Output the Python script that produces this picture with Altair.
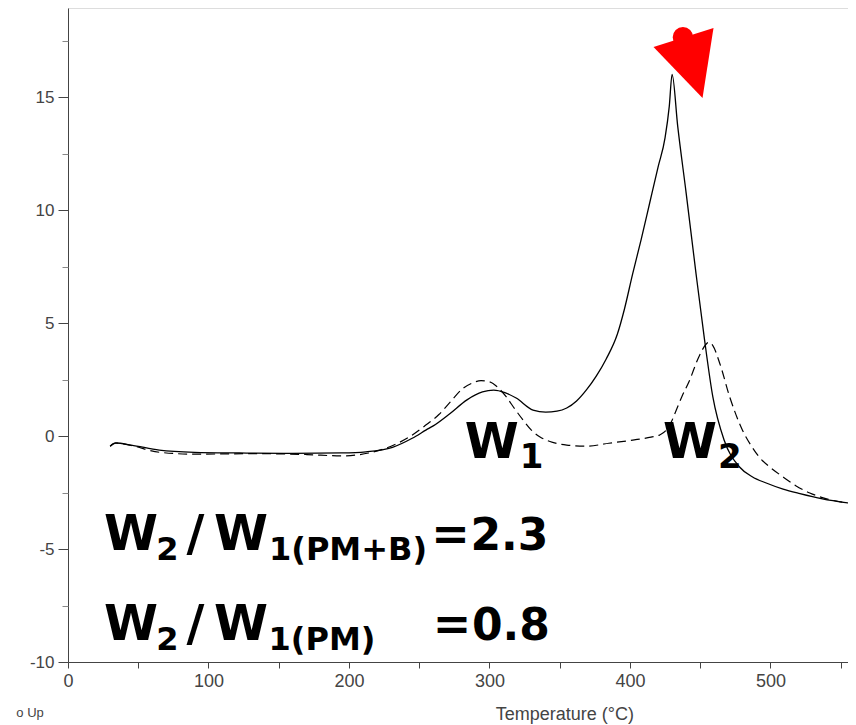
import altair as alt
import pandas as pd

# ---- data ----
pmb_temp = [30, 34, 45, 65, 90, 122, 160, 195, 212, 231, 245, 255, 260, 272, 284, 295, 303, 311, 319,
            331, 340, 348, 355, 362, 369, 376, 383, 391, 396, 402, 408, 414, 420, 425, 428, 430, 434,
            440, 447, 453, 459, 467, 478, 487, 497, 509, 521, 537, 555]
pmb_val = [-0.45, -0.31, -0.4, -0.62, -0.72, -0.75, -0.77, -0.75, -0.70, -0.5, -0.1, 0.27, 0.45, 1.0,
           1.6, 1.95, 2.03, 1.92, 1.68, 1.15, 1.06, 1.1, 1.24, 1.55, 2.04, 2.65, 3.4, 4.5, 5.6, 7.2,
           8.7, 10.3, 11.9, 13.2, 14.6, 16.0, 13.7, 10.75, 7.2, 4.3, 1.73, -0.18, -1.37, -1.8, -2.08,
           -2.35, -2.55, -2.78, -2.96]

pm_temp = [30, 34, 45, 65, 89, 136, 170, 195, 214, 230, 243, 254, 264, 272, 281, 288, 294, 300, 306,
           312, 318, 324, 330, 336, 345, 355, 369, 385, 402, 415, 421, 426, 430, 433, 437, 442, 449,
           454, 456, 459, 464, 471, 480, 486, 492, 500, 509, 518, 528, 540, 555]
pm_val = [-0.45, -0.31, -0.42, -0.72, -0.8, -0.78, -0.82, -0.88, -0.75, -0.45, -0.04, 0.45, 0.95, 1.5,
          2.1, 2.35, 2.45, 2.4, 2.15, 1.73, 1.2, 0.7, 0.25, -0.04, -0.28, -0.4, -0.45, -0.32, -0.18,
          -0.05, 0.04, 0.27, 0.7, 1.15, 1.75, 2.4, 3.5, 4.05, 4.15, 4.0, 3.2, 1.73, 0.27, -0.4, -0.93,
          -1.4, -1.81, -2.2, -2.52, -2.78, -2.96]

y_major = [-10, -5, 0, 5, 10, 15]
y_minor = [-7.5, -2.5, 2.5, 7.5, 12.5, 17.5]
x_ticks = [0, 50, 100, 150, 200, 250, 300, 350, 400, 450, 500, 550]

# big bold annotation pieces (text, x, y, size)
big_text = ["W", "W", "W", "/", "W", "=", "2.3", "W", "/", "W", "=", "0.8"]
big_x = [301.6, 442.8, 44.8, 90.7, 123.1, 272.3, 314.2, 44.8, 90.7, 123.1, 273.4, 315.3]
big_y = [-0.97, -0.97, -5.04, -5.04, -5.04, -5.04, -5.04, -9.03, -9.03, -9.03, -9.03, -9.03]
big_size = [49, 49, 49, 49, 49, 46, 44, 49, 49, 49, 46, 44]

sub_text = ["1", "2", "2", "1(PM+B)", "2", "1(PM)"]
sub_x = [330.0, 471.0, 70.8, 199.3, 70.8, 180.8]
sub_y = [-1.42, -1.42, -5.49, -5.49, -9.47, -9.47]
sub_size = [34, 34, 32, 32, 32, 32]

# red marker shapes
dot_x = [429.3, 437.7]
dot_y = [19.41, 17.65]
tri_x = [442.6]
tri_y = [16.74]

SANS_N = "Liberation Sans Narrow, Arial Narrow, Liberation Sans, Arial, sans-serif"
SANS = "Liberation Sans, Arial, Helvetica, sans-serif"
BOLD = "DejaVu Sans, Verdana, sans-serif"

df = pd.concat([
    pd.DataFrame({"t": pmb_temp, "v": pmb_val, "s": "PM+B"}),
    pd.DataFrame({"t": pm_temp, "v": pm_val, "s": "PM"}),
])

xs = alt.Scale(domain=[0, 555.2], nice=False, zero=False)
ys = alt.Scale(domain=[-10, 18.94], nice=False, zero=False)

x_axis = alt.Axis(values=x_ticks, labelExpr="datum.value % 100 == 0 ? toString(datum.value) : ''",
                  tickSize=6, tickColor="#444", domainColor="#444", labelColor="#444",
                  labelFont=SANS_N, labelFontSize=18, labelPadding=4,
                  grid=False, title=None, labelFlush=False)
y_axis = alt.Axis(values=y_major, labelExpr="toString(datum.value)", tickSize=10,
                  tickColor="#444", domainColor="#444",
                  labelColor="#444", labelFont=SANS, labelFontSize=17,
                  labelPadding=4, grid=False, title=None, orient="left")
y_axis_minor = alt.Axis(values=y_minor, tickSize=6, tickColor="#888", labels=False,
                        domain=False, grid=False, title=None, orient="left")

solid = alt.Chart(df[df.s == "PM+B"]).mark_line(color="black", strokeWidth=1.3, clip=True,
                                                interpolate="monotone").encode(
    x=alt.X("t:Q", scale=xs, axis=x_axis),
    y=alt.Y("v:Q", scale=ys, axis=y_axis),
)
dashed = alt.Chart(df[df.s == "PM"]).mark_line(color="black", strokeWidth=1.2,
                                                 strokeDash=[9, 5], clip=True,
                                                 interpolate="monotone").encode(
    x=alt.X("t:Q", scale=xs),
    y=alt.Y("v:Q", scale=ys),
)
minor = alt.Chart(pd.DataFrame({"t": [0], "v": [0]})).mark_point(opacity=0).encode(
    x=alt.X("t:Q", scale=xs),
    y=alt.Y("v:Q", scale=ys, axis=y_axis_minor),
)

big_df = pd.DataFrame({"txt": big_text, "x": big_x, "y": big_y, "size": big_size})
big = alt.Chart(big_df).mark_text(font=BOLD, fontWeight="bold",
                                  align="center", baseline="alphabetic", color="black").encode(
    x=alt.X("x:Q", scale=xs), y=alt.Y("y:Q", scale=ys), text="txt:N",
    size=alt.Size("size:Q", scale=None, legend=None))

sub_df = pd.DataFrame({"txt": sub_text, "x": sub_x, "y": sub_y, "size": sub_size})
sub = alt.Chart(sub_df).mark_text(font=BOLD, fontWeight="bold",
                                  align="center", baseline="alphabetic", color="black").encode(
    x=alt.X("x:Q", scale=xs), y=alt.Y("y:Q", scale=ys), text="txt:N",
    size=alt.Size("size:Q", scale=None, legend=None))

dots = alt.Chart(pd.DataFrame({"x": dot_x, "y": dot_y})).mark_point(
    shape="circle", filled=True, color="#ff0000", opacity=1, size=420, clip=False).encode(
    x=alt.X("x:Q", scale=xs), y=alt.Y("y:Q", scale=ys))

tri = alt.Chart(pd.DataFrame({"x": tri_x, "y": tri_y})).mark_point(
    shape="M -0.885 -0.261 L 0.578 -0.724 L 0.310 0.983 Z", filled=True, color="#ff0000",
    opacity=1, size=6724, clip=False).encode(
    x=alt.X("x:Q", scale=xs), y=alt.Y("y:Q", scale=ys))

foot_df = pd.DataFrame({"txt": ["Temperature (°C)", "o Up"], "x": [353.7, -27.0],
                        "y": [-12.35, -12.26], "size": [18, 13]})
foot = alt.Chart(foot_df).mark_text(font=SANS_N, color="#444",
                                    align="center", baseline="middle").encode(
    x=alt.X("x:Q", scale=xs), y=alt.Y("y:Q", scale=ys), text="txt:N",
    size=alt.Size("size:Q", scale=None, legend=None))

chart = alt.layer(solid, dashed, minor, big, sub, dots, tri, foot).resolve_axis(
    y="independent").properties(
    width=780, height=654,
    autosize=alt.AutoSizeParams(type="none"),
    padding={"left": 60, "top": 0, "right": 0, "bottom": 63},
).configure_view(stroke=None).configure(background="white")

chart.save("out.html", embed_options={"renderer": "svg", "actions": False})
